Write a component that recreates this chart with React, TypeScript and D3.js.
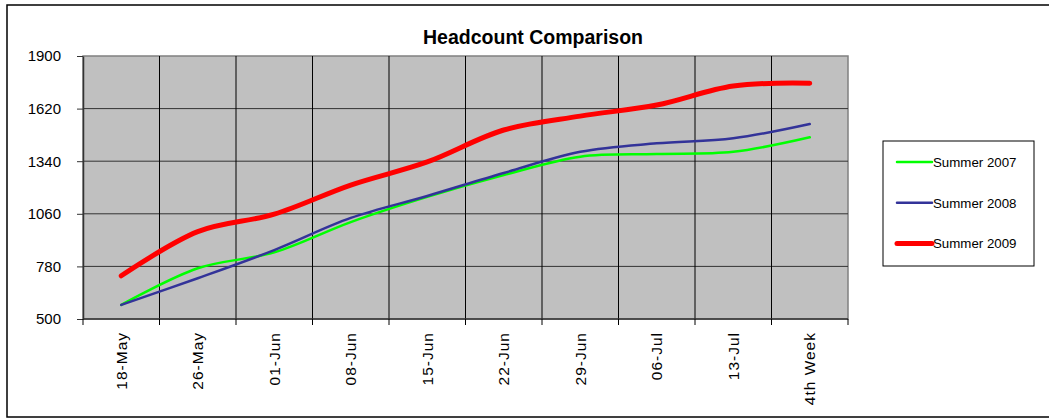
import React, { useEffect, useRef } from 'react';
import * as d3 from 'd3';

// weeks on the category axis
const weeks = ['18-May', '26-May', '01-Jun', '08-Jun', '15-Jun', '22-Jun', '29-Jun', '06-Jul', '13-Jul', '4th Week'];
const yTicks = [500, 780, 1060, 1340, 1620, 1900];

const summer2007 = [575, 770, 855, 1016, 1150, 1266, 1364, 1378, 1390, 1467];
const summer2008 = [575, 717, 867, 1038, 1155, 1277, 1390, 1435, 1462, 1538];
const summer2009 = [730, 965, 1058, 1213, 1336, 1506, 1580, 1639, 1740, 1755];

const seriesNames = ['Summer 2007', 'Summer 2008', 'Summer 2009'];
const seriesColors = ['#00ff00', '#333399', '#ff0000'];
const seriesWidths = [2.5, 2.5, 5];

const FONT = 'Liberation Sans, Arial, sans-serif';

export default function App() {
  const ref = useRef<SVGSVGElement | null>(null);

  useEffect(() => {
    const W = 1049, H = 418;
    const margin = { top: 56, left: 83, right: 201, bottom: 99 };
    const width = W - margin.left - margin.right;
    const height = H - margin.top - margin.bottom;

    const svg = d3.select(ref.current);
    svg.selectAll('*').remove();

    // outer chart frame
    svg.append('rect')
      .attr('x', 7).attr('y', 5)
      .attr('width', 1060).attr('height', 412)
      .attr('fill', '#fff').attr('stroke', '#000').attr('stroke-width', 1.5);

    svg.append('text')
      .attr('x', 533).attr('y', 44)
      .attr('text-anchor', 'middle')
      .attr('font-family', FONT)
      .attr('font-weight', 'bold')
      .attr('font-size', 19.5)
      .text('Headcount Comparison');

    const g = svg.append('g').attr('transform', `translate(${margin.left},${margin.top})`);

    const x = d3.scaleBand().domain(weeks).range([0, width]);
    const y = d3.scaleLinear().domain([500, 1900]).range([height, 0]);

    // plot area
    g.append('rect')
      .attr('width', width).attr('height', height)
      .attr('fill', '#c0c0c0').attr('stroke', '#808080').attr('stroke-width', 1.5);

    // horizontal gridlines
    g.selectAll('.hgrid').data(yTicks.slice(1, -1)).enter().append('line')
      .attr('x1', 0).attr('x2', width)
      .attr('y1', d => y(d)).attr('y2', d => y(d))
      .attr('stroke', '#333').attr('stroke-width', 1);

    // vertical gridlines between categories
    g.selectAll('.vgrid').data(weeks.slice(1)).enter().append('line')
      .attr('x1', d => x(d)!).attr('x2', d => x(d)!)
      .attr('y1', 0).attr('y2', height)
      .attr('stroke', '#000').attr('stroke-width', 1);

    // y axis
    const yAxis = g.append('g')
      .call(d3.axisLeft(y).tickValues(yTicks).tickFormat(d3.format('d')).tickSize(6).tickPadding(16).tickSizeOuter(0));
    yAxis.select('.domain').attr('stroke', '#333').attr('stroke-width', 1.5);
    yAxis.selectAll('.tick line').attr('stroke', '#333');
    yAxis.selectAll('text')
      .attr('font-family', FONT)
      .attr('font-size', 15).attr('fill', '#000');

    // x axis: ticks at category boundaries
    const xAxisG = g.append('g').attr('transform', `translate(0,${height})`);
    xAxisG.append('line').attr('x1', 0).attr('x2', width)
      .attr('stroke', '#333').attr('stroke-width', 1.5);
    const bounds = d3.range(weeks.length + 1).map(i => i * x.step());
    xAxisG.selectAll('.xt').data(bounds).enter().append('line')
      .attr('x1', d => d).attr('x2', d => d).attr('y1', 0).attr('y2', 6)
      .attr('stroke', '#000');
    xAxisG.selectAll('.xl').data(weeks).enter().append('text')
      .attr('transform', d => `translate(${x(d)! + x.bandwidth() / 2 + 5.5},13) rotate(-90)`)
      .attr('text-anchor', 'end')
      .attr('font-family', FONT)
      .attr('font-size', 15.5)
      .attr('letter-spacing', 1)
      .text(d => d);

    // lines
    const all = [summer2007, summer2008, summer2009];
    const line = d3.line<number>()
      .x((_, i) => x(weeks[i])! + x.bandwidth() / 2)
      .y(d => y(d))
      .curve(d3.curveCatmullRom.alpha(0.5));
    all.forEach((vals, i) => {
      g.append('path').datum(vals)
        .attr('fill', 'none')
        .attr('stroke', seriesColors[i])
        .attr('stroke-width', seriesWidths[i])
        .attr('stroke-linecap', 'round')
        .attr('stroke-linejoin', 'round')
        .attr('d', line);
    });

    // legend
    const lg = svg.append('g').attr('transform', 'translate(883,141)');
    lg.append('rect').attr('width', 151).attr('height', 125)
      .attr('fill', '#fff').attr('stroke', '#000').attr('stroke-width', 1);
    seriesNames.forEach((name, i) => {
      const ly = 21 + i * 40.7;
      lg.append('line').attr('x1', 14).attr('x2', 49).attr('y1', ly).attr('y2', ly)
        .attr('stroke', seriesColors[i]).attr('stroke-width', seriesWidths[i])
        .attr('stroke-linecap', 'round');
      lg.append('text').attr('x', 50).attr('y', ly + 5)
        .attr('font-family', FONT)
        .attr('font-size', 13.3)
        .text(name);
    });
  }, []);

  return (
    <div style={{ position: 'absolute', left: 0, top: 0 }}>
      <svg ref={ref} width={1049} height={418} style={{ display: 'block' }} />
    </div>
  );
}
